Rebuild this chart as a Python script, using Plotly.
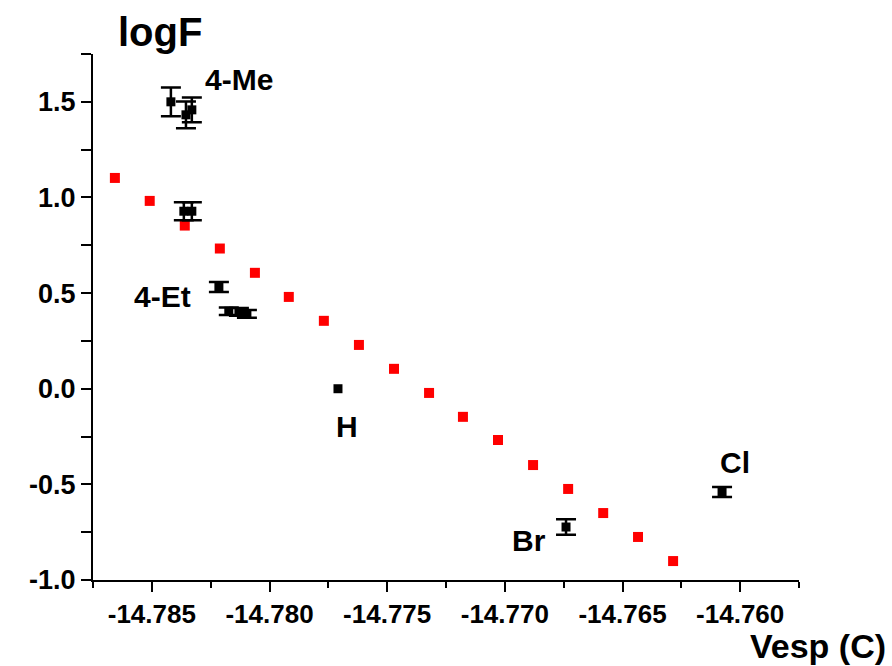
import plotly.graph_objects as go

# Red series (fit points)
red_x = [-14.78657, -14.78509, -14.78360, -14.78211, -14.78062, -14.77918, -14.77769,
         -14.77620, -14.77471, -14.77322, -14.77178, -14.77029, -14.76880, -14.76731,
         -14.76582, -14.76434, -14.76285]
red_y = [1.102, 0.982, 0.853, 0.733, 0.606, 0.480, 0.355, 0.229, 0.104, -0.022,
         -0.147, -0.268, -0.399, -0.524, -0.650, -0.775, -0.901]

# Black series (measured, with error bars; None = no bar)
blk_x = [-14.78419, -14.78355, -14.78330, -14.78364, -14.78330, -14.78215,
         -14.78173, -14.78130, -14.78096, -14.77709, -14.76740, -14.76077]
blk_y = [1.500, 1.432, 1.458, 0.928, 0.928, 0.532, 0.405, 0.402, 0.391, 0.0, -0.723, -0.540]
blk_err = [0.075, 0.07, 0.065, 0.047, 0.047, 0.026, 0.02, 0.02, 0.02, None, 0.04, 0.026]

# Point labels
lab_text = ["4-Me", "4-Et", "H", "Br", "Cl"]
lab_x = [-14.78130, -14.78453, -14.77671, -14.76897, -14.76021]
lab_y = [1.615, 0.480, -0.199, -0.791, -0.388]

# Tick values and labels
x_tickvals = [-14.785, -14.780, -14.775, -14.770, -14.765, -14.760]
x_ticktext = ["-14.785", "-14.780", "-14.775", "-14.770", "-14.765", "-14.760"]
y_tickvals = [-1.0, -0.5, 0.0, 0.5, 1.0, 1.5]
y_ticktext = ["-1.0", "-0.5", "0.0", "0.5", "1.0", "1.5"]

FONT = "Liberation Sans, Arial, sans-serif"

fig = go.Figure()
fig.add_trace(go.Scatter(
    x=red_x, y=red_y, mode="markers",
    marker=dict(symbol="square", size=10, color="#ff0000", line=dict(width=0)),
    showlegend=False, hoverinfo="skip"))

eb_idx = [i for i, e in enumerate(blk_err) if e is not None]
ne_idx = [i for i, e in enumerate(blk_err) if e is None]
fig.add_trace(go.Scatter(
    x=[blk_x[i] for i in eb_idx], y=[blk_y[i] for i in eb_idx], mode="markers",
    marker=dict(symbol="square", size=9, color="black", line=dict(width=0)),
    error_y=dict(type="data", array=[blk_err[i] for i in eb_idx], visible=True,
                 color="black", thickness=2.5, width=10),
    showlegend=False, hoverinfo="skip"))
fig.add_trace(go.Scatter(
    x=[blk_x[i] for i in ne_idx], y=[blk_y[i] for i in ne_idx], mode="markers",
    marker=dict(symbol="square", size=9, color="black", line=dict(width=0)),
    showlegend=False, hoverinfo="skip"))

for t, x, y in zip(lab_text, lab_x, lab_y):
    fig.add_annotation(x=x, y=y, xref="x", yref="y", text=t, showarrow=False,
                       font=dict(family=FONT, size=30, color="black", weight="bold"))

fig.add_annotation(x=0.0949, y=1.042, xref="paper", yref="paper", text="logF",
                   showarrow=False, xanchor="center", yanchor="middle",
                   font=dict(family=FONT, size=40, color="black", weight="bold"))
fig.add_annotation(x=1.126, y=-0.1255, xref="paper", yref="paper", text="Vesp (C)",
                   showarrow=False, xanchor="right", yanchor="middle",
                   font=dict(family=FONT, size=34, color="black", weight="bold"))

fig.update_layout(
    width=892, height=666,
    margin=dict(l=93, r=93, t=54, b=86, autoexpand=False),
    paper_bgcolor="white", plot_bgcolor="white",
    showlegend=False,
    xaxis=dict(range=[-14.7875, -14.7575], tickvals=x_tickvals, ticktext=x_ticktext,
               automargin=False, showgrid=False, zeroline=False,
               showline=True, linecolor="black", linewidth=2,
               ticks="outside", ticklen=10, tickwidth=2, tickcolor="black",
               tickfont=dict(family=FONT, size=26, color="black", weight="bold"),
               minor=dict(dtick=0.0025, tick0=-14.785, ticks="outside", ticklen=6,
                          tickwidth=2, tickcolor="black", showgrid=False)),
    yaxis=dict(range=[-1.0, 1.75], tickvals=y_tickvals, ticktext=y_ticktext,
               automargin=False, showgrid=False, zeroline=False,
               showline=True, linecolor="black", linewidth=2,
               ticks="outside", ticklen=10, tickwidth=2, tickcolor="black",
               tickfont=dict(family=FONT, size=27, color="black", weight="bold"),
               minor=dict(dtick=0.25, tick0=-1.0, ticks="outside", ticklen=10,
                          tickwidth=2, tickcolor="black", showgrid=False)),
)

fig.write_html("out.html", config={"displayModeBar": False},
               post_script="document.body.style.margin='0';document.body.style.overflow='hidden';")
